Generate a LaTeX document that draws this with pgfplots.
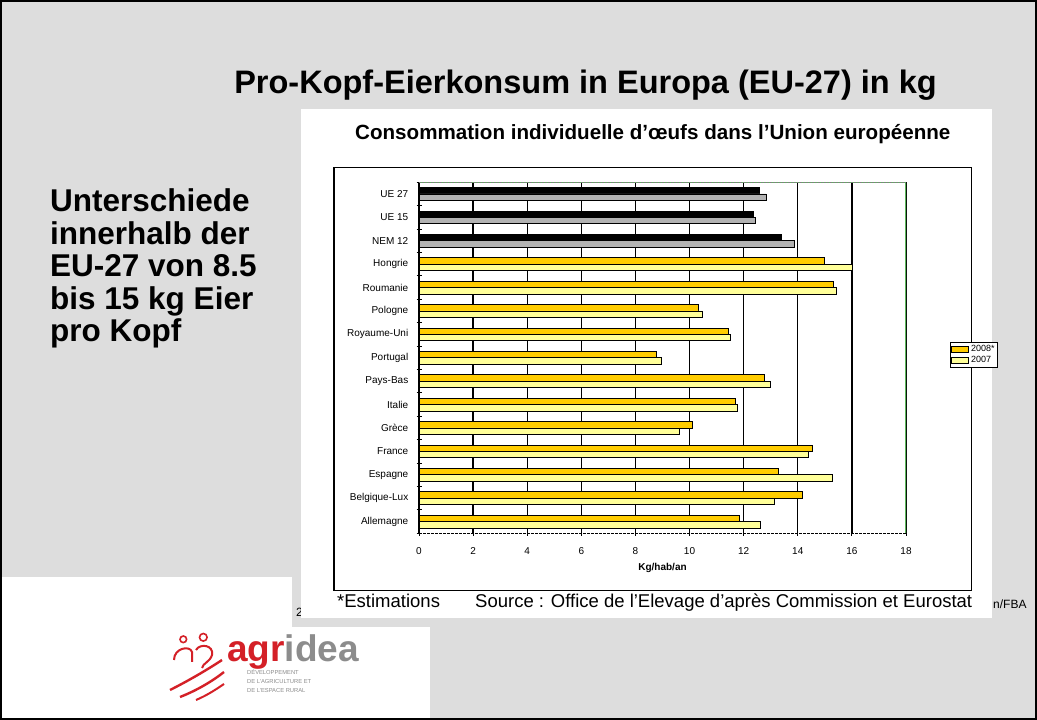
\documentclass[border=0pt]{standalone}
\usepackage{pgfplots}
\pgfplotsset{compat=1.18}
\usepackage{pgfplotstable}
\usepackage{fontspec}
\setmainfont{Liberation Sans}
\definecolor{bg}{HTML}{DDDDDD}
\definecolor{orng}{HTML}{FFCC00}
\definecolor{lyel}{HTML}{FFFF99}
\definecolor{gry}{HTML}{B2B2B2}
\definecolor{grn}{HTML}{5CB85C}
\definecolor{agred}{HTML}{D42027}
\definecolor{aggray}{HTML}{8C8C8C}

\pgfplotstableread{
idx y08 y07
3 14.99 16.02
4 15.32 15.43
5 10.33 10.49
6 11.44 11.51
7 8.78 8.95
8 12.77 13.00
9 11.70 11.77
10 10.11 9.62
11 14.54 14.38
12 13.27 15.28
13 14.16 13.15
14 11.83 12.60
}\countries
\pgfplotstableread{
idx y08 y07
0 12.57 12.83
1 12.35 12.44
2 13.41 13.88
}\aggr

\begin{document}
\begin{tikzpicture}
% background
\fill[bg] (0pt,0pt) rectangle (1037pt,720pt);
\begin{scope}[shift={(0pt,720pt)}, yscale=-1]
  % logo white area
  \fill[white] (0pt,577pt) rectangle (292pt,720pt);
  \fill[white] (0pt,627pt) rectangle (430pt,720pt);
  % footer bits
  \node[anchor=base west, inner sep=0pt, font=\fontsize{12}{14}\selectfont] at (296pt,617pt) {2};
  \node[anchor=base west, inner sep=0pt, font=\fontsize{12}{14}\selectfont] at (993pt,609pt) {n/FBA};
  % chart image white box
  \fill[white] (300.7pt,109pt) rectangle (991.7pt,617.7pt);
  \draw[black, line width=1.3pt] (334pt,167.7pt) rectangle (971.7pt,590.7pt);
  % titles
  \node[anchor=base, inner sep=0pt, font=\fontsize{32.5}{36}\selectfont\bfseries] at (585.5pt,94pt) {Pro-Kopf-Eierkonsum in Europa (EU-27) in kg};
  \node[anchor=base west, inner sep=0pt, font=\fontsize{20.6}{24}\selectfont\bfseries] at (355pt,139.3pt) {Consommation individuelle d’œufs dans l’Union européenne};
  % left text
  \foreach \t/\yy in {Unterschiede/212, innerhalb der/244.5, EU-27 von 8.5/277, bis 15 kg Eier/309.5, pro Kopf/342}
    \node[anchor=base west, inner sep=0pt, font=\fontsize{31.5}{34}\selectfont\bfseries] at (50pt,\yy pt) {\t};
  % footer source
  \node[anchor=base west, inner sep=0pt, font=\fontsize{18.5}{21}\selectfont] at (337pt,608pt) {*Estimations};
  \node[anchor=base west, inner sep=0pt, font=\fontsize{18.5}{21}\selectfont] at (475pt,608pt) {Source : Office de l’Elevage d’après Commission et Eurostat};
  % logo
  \node[anchor=base west, inner sep=0pt, font=\fontsize{37}{40}\selectfont\bfseries] at (227pt,662pt) {\textcolor{agred}{agr}\textcolor{aggray}{idea}};
  \foreach \t/\yy in {DÉVELOPPEMENT/675, DE L’AGRICULTURE ET/684, DE L’ESPACE RURAL/693}
    \node[anchor=base west, inner sep=0pt, font=\fontsize{5.8}{7}\selectfont, text=aggray] at (247pt,\yy pt) {\t};
  \draw[agred, line width=1.6pt] (183.3pt,639.3pt) circle (3.3pt);
  \draw[agred, line width=1.6pt] (203.3pt,637.3pt) circle (3.8pt);
  \draw[agred, line width=2pt] (174pt,660pt) .. controls (174pt,648pt) and (190pt,645pt) .. (192pt,652pt) -- (192pt,662pt);
  \draw[agred, line width=2pt] (196pt,650pt) .. controls (200pt,643pt) and (214pt,645pt) .. (212pt,655pt) .. controls (210pt,662pt) and (203pt,663pt) .. (202pt,668pt);
  \draw[agred, line width=2.4pt] (170pt,690pt) .. controls (190pt,680pt) and (210pt,668pt) .. (222pt,660pt);
  \draw[agred, line width=2.4pt] (180pt,697pt) .. controls (198pt,690pt) and (214pt,680pt) .. (224pt,672pt);
  \draw[agred, line width=2pt] (196pt,700pt) .. controls (208pt,695pt) and (218pt,688pt) .. (224pt,684pt);
\end{scope}
\draw[black, line width=2pt] (1pt,1pt) rectangle (1036pt,719pt);

\begin{axis}[
  at={(662.5pt,362.2pt)}, anchor=center,
  scale only axis, width=487pt, height=351pt,
  xbar, y dir=reverse,
  xmin=0, xmax=18, ymin=-0.5, ymax=14.5,
  bar width=0.27,
  xtick={0,2,...,18},
  ytick={0,...,14},
  yticklabels={UE 27,UE 15,NEM 12,Hongrie,Roumanie,Pologne,Royaume-Uni,Portugal,Pays-Bas,Italie,Grèce,France,Espagne,Belgique-Lux,Allemagne},
  axis line style={draw=none},
  tick pos=left,
  xmajorgrids, grid style={black, line width=1.3pt},
  ytick style={draw=none},
  xtick style={black, line width=0.8pt},
  tick align=center, major tick length=5pt,
  extra y ticks={-0.5,0.5,...,14.5},
  extra y tick labels={},
  extra y tick style={ytick style={draw=black, line width=0.8pt}, major tick length=5pt, grid=none},
  yticklabel style={font=\fontsize{10}{12}\selectfont, xshift=-4.7pt},
  xticklabel style={font=\fontsize{10}{12}\selectfont, yshift=-8pt},
  /pgf/number format/assume math mode=true,
  xlabel={\bfseries Kg/hab/an},
  xlabel style={font=\fontsize{10}{12}\selectfont, yshift=-2pt},
  legend style={at={(axis description cs:1.09,0.508)}, anchor=west, font=\fontsize{9}{10}\selectfont, draw=black, line width=0.6pt, inner sep=1pt, row sep=-1pt, legend cell align=left},
  area legend,
]
\addplot[fill=orng, draw=black, line width=0.8pt, bar shift=-0.135] table[x=y08, y=idx]{\countries};
\addlegendentry{2008*}
\addplot[fill=lyel, draw=black, line width=0.8pt, bar shift=0.135] table[x=y07, y=idx]{\countries};
\addlegendentry{2007}
\addplot[fill=black, draw=black, line width=0.8pt, bar shift=-0.135, forget plot] table[x=y08, y=idx]{\aggr};
\addplot[fill=gry, draw=black, line width=0.8pt, bar shift=0.135, forget plot] table[x=y07, y=idx]{\aggr};
\draw[black, line width=1.2pt] (axis cs:0,-0.5) -- (axis cs:0,14.5);
\draw[grn, line width=1.5pt] (axis cs:18,-0.5) -- (axis cs:18,14.5);
\draw[grn, line width=1.2pt] (axis cs:0,-0.5) -- (axis cs:18,-0.5);
\draw[gray, line width=1.2pt, dash pattern=on 2pt off 1pt] (axis cs:0,-0.5) -- (axis cs:18,-0.5);
\draw[black, line width=1.5pt, dash pattern=on 3pt off 1pt] (axis cs:0,14.5) -- (axis cs:18,14.5);
\end{axis}
\end{tikzpicture}
\end{document}
